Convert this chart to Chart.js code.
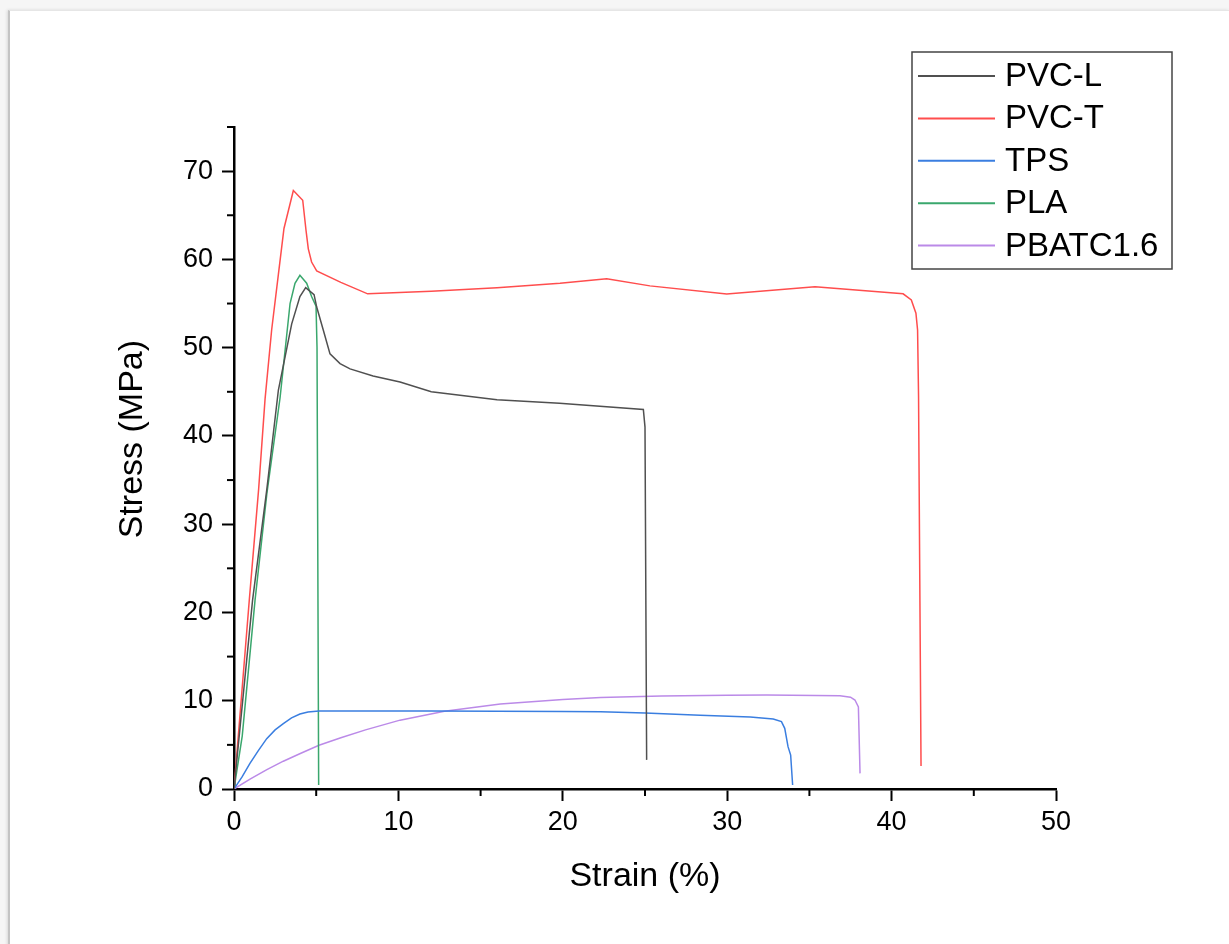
<!DOCTYPE html>
<html>
<head>
<meta charset="utf-8">
<script src="https://cdn.jsdelivr.net/npm/chart.js@4"></script>
<style>
  html, body { margin: 0; padding: 0; background: #f6f6f6; }
  #page {
    position: absolute; left: 8px; top: 10px; width: 1219px; height: 940px;
    background: #fff; border-left: 2px solid #c4c4c4; border-top: 1px solid #e6e6e6;
    box-shadow: -1px 0 3px rgba(0,0,0,0.12);
  }
  #grafico { position: absolute; left: 0; top: 0; }
</style>
</head>
<body>
<div id="page"></div>
<canvas id="grafico" width="1229" height="944"></canvas>
<script>
// valores (strain %, stress MPa)
const seriesNames = ['PVC-L', 'PVC-T', 'TPS', 'PLA', 'PBATC1.6'];
const seriesColors = ['#505050', '#ff4d4d', '#3a7ee0', '#3aa76d', '#bb8ae8'];

const strainPvcL = [0, 1.13, 2, 2.7, 3.51, 4.01, 4.36, 4.87, 5.03, 5.43, 5.84, 6.45, 7.06, 8.46, 10.1, 12, 16, 19.8, 24.9, 25.0, 25.1];
const stressPvcL = [0, 21.4, 34, 45.2, 52.7, 55.8, 56.8, 56.0, 54.6, 52.0, 49.3, 48.2, 47.6, 46.8, 46.1, 45.0, 44.1, 43.7, 43.0, 41, 3.3];

const strainPvcT = [0, 0.93, 1.5, 1.89, 2.29, 2.7, 3.04, 3.61, 4.18, 4.38, 4.52, 4.72, 5.03, 6.5, 8.13, 12, 16, 19.83, 22.67, 25.3, 29.97, 35.34, 40.7, 41.2, 41.48, 41.58, 41.64, 41.79];
const stressPvcT = [0, 21.4, 34, 44.2, 52, 58.3, 63.5, 67.8, 66.7, 63.3, 61.2, 59.7, 58.7, 57.4, 56.1, 56.4, 56.8, 57.3, 57.8, 57.0, 56.07, 56.9, 56.1, 55.4, 53.9, 52.0, 44.4, 2.6];

const strainTps = [0, 0.5, 0.97, 1.5, 1.99, 2.5, 3.0, 3.5, 4.01, 4.5, 5.17, 8, 12, 16, 20, 22.3, 25, 28.35, 31.4, 32.8, 33.3, 33.5, 33.7, 33.86, 33.98];
const stressTps = [0, 1.4, 2.9, 4.4, 5.7, 6.7, 7.4, 8.05, 8.5, 8.72, 8.83, 8.85, 8.84, 8.82, 8.78, 8.76, 8.6, 8.35, 8.15, 7.93, 7.63, 6.87, 4.8, 3.85, 0.45];

const strainPla = [0, 0.5, 1.28, 2, 2.8, 3.41, 3.71, 4.01, 4.42, 4.72, 4.99, 5.05, 5.15];
const stressPla = [0, 6, 21.4, 33.5, 44.3, 55.0, 57.3, 58.2, 57.3, 55.8, 54.7, 50, 0.45];

const strainPbatc = [0, 1, 2, 3, 4, 5.17, 6.5, 8, 10.1, 12.8, 16.2, 20, 22.3, 26, 30, 32.4, 36.86, 37.5, 37.77, 37.98, 38.08];
const stressPbatc = [0, 1.15, 2.2, 3.15, 4.0, 4.95, 5.8, 6.7, 7.8, 8.8, 9.63, 10.15, 10.38, 10.55, 10.62, 10.65, 10.57, 10.4, 10.08, 9.3, 1.77];

const xTicks = [0, 10, 20, 30, 40, 50];
const yTicks = [0, 10, 20, 30, 40, 50, 60, 70];

const strains = [strainPvcL, strainPvcT, strainTps, strainPla, strainPbatc];
const stresses = [stressPvcL, stressPvcT, stressTps, stressPla, stressPbatc];

const fonte = 'Arial, "Liberation Sans", sans-serif';

function montaPontos(xs, ys) {
  return xs.map((x, i) => ({ x: x, y: ys[i] }));
}

const datasets = seriesNames.map((nome, i) => ({
  label: nome,
  data: montaPontos(strains[i], stresses[i]),
  borderColor: seriesColors[i],
  borderWidth: 1.5,
  pointRadius: 0,
  tension: 0,
  fill: false
}));

// ticks menores (metade do tamanho)
const ticksMenores = {
  id: 'ticksMenores',
  afterDraw(chart) {
    const ctx = chart.ctx;
    const sx = chart.scales.x, sy = chart.scales.y;
    ctx.save();
    ctx.strokeStyle = '#000';
    ctx.lineWidth = 2;
    for (let v = 5; v <= sx.max; v += 10) {
      const px = sx.getPixelForValue(v);
      ctx.beginPath(); ctx.moveTo(px, sx.top); ctx.lineTo(px, sx.top + 7); ctx.stroke();
    }
    for (let v = 5; v <= sy.max; v += 10) {
      const py = sy.getPixelForValue(v);
      ctx.beginPath(); ctx.moveTo(sy.right, py); ctx.lineTo(sy.right - 7, py); ctx.stroke();
    }
    ctx.restore();
  }
};

// legenda com caixa, como no original
const legendaCaixa = {
  id: 'legendaCaixa',
  afterDraw(chart) {
    const ctx = chart.ctx;
    const box = { left: 912, top: 52, width: 260, height: 217 };
    ctx.save();
    ctx.strokeStyle = '#444';
    ctx.lineWidth = 1.5;
    ctx.strokeRect(box.left, box.top, box.width, box.height);
    ctx.font = '33px ' + fonte;
    ctx.textBaseline = 'middle';
    ctx.fillStyle = '#000';
    chart.data.datasets.forEach((ds, i) => {
      const y = 76 + i * 42.4;
      ctx.strokeStyle = ds.borderColor;
      ctx.lineWidth = 2;
      ctx.beginPath(); ctx.moveTo(918, y); ctx.lineTo(995, y); ctx.stroke();
      ctx.fillText(ds.label, 1005, y + 1);
    });
    ctx.restore();
  }
};

const grafico = new Chart(document.getElementById('grafico'), {
  type: 'line',
  data: { datasets: datasets },
  options: {
    responsive: false,
    animation: false,
    devicePixelRatio: 1,
    layout: { padding: { left: 0, right: 173, top: 127, bottom: 0 } },
    plugins: { legend: { display: false }, tooltip: { enabled: false } },
    scales: {
      x: {
        type: 'linear',
        min: 0, max: 50,
        afterFit: (s) => { s.height = 155; },
        border: { display: true, color: '#000', width: 2.5 },
        grid: {
          drawOnChartArea: false, drawTicks: true, tickLength: 12, tickWidth: 2,
          tickColor: (c) => xTicks.includes(c.tick.value) ? '#000' : 'rgba(0,0,0,0)'
        },
        ticks: {
          stepSize: 5, autoSkip: false, maxRotation: 0, padding: 5,
          color: '#000', font: { family: fonte, size: 27 },
          callback: (v) => xTicks.includes(v) ? String(v) : ''
        },
        title: {
          display: true, text: 'Strain (%)', color: '#000',
          font: { family: fonte, size: 34 }, padding: { top: 0, bottom: 47 }
        }
      },
      y: {
        type: 'linear',
        min: 0, max: 75,
        afterFit: (s) => { s.width = 234; },
        border: { display: true, color: '#000', width: 2.5 },
        grid: {
          drawOnChartArea: false, drawTicks: true, tickLength: 12, tickWidth: 2,
          tickColor: (c) => yTicks.includes(c.tick.value) ? '#000' : 'rgba(0,0,0,0)'
        },
        ticks: {
          stepSize: 5, autoSkip: false, padding: 9,
          color: '#000', font: { family: fonte, size: 27 },
          callback: (v) => yTicks.includes(v) ? String(v) : ''
        },
        title: {
          display: true, text: '    Stress (MPa)', color: '#000',
          font: { family: fonte, size: 34 }, padding: { top: 112, bottom: 0 }
        }
      }
    }
  },
  plugins: [ticksMenores, legendaCaixa]
});
</script>
</body>
</html>
